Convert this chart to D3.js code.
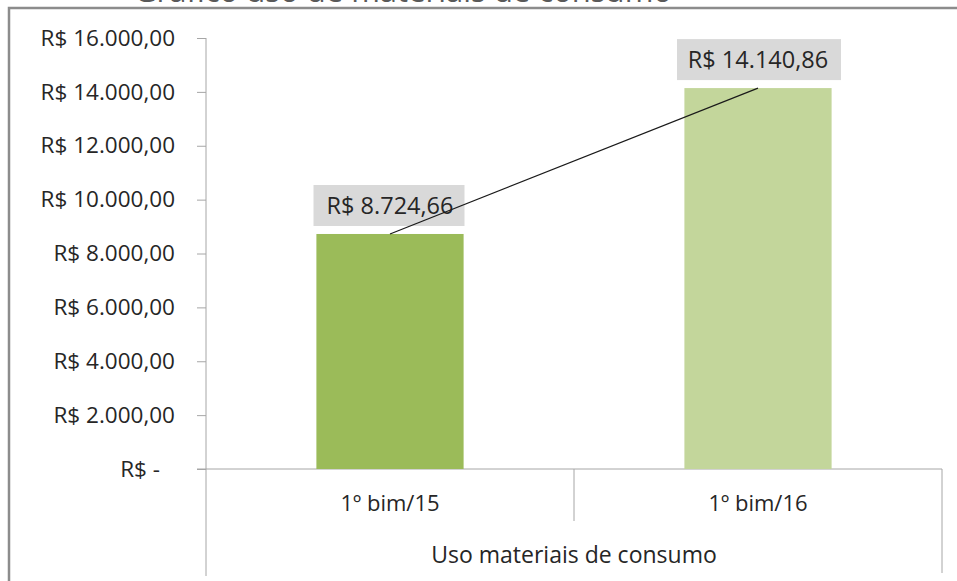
<!DOCTYPE html>
<html>
<head>
<meta charset="utf-8">
<script src="https://cdn.jsdelivr.net/npm/d3@7"></script>
<style>
  body { margin: 0; background: #fff; }
  text { font-family: "Open Sans", "Noto Sans", sans-serif; fill: #262626; }
</style>
</head>
<body>
<div id="chart"></div>
<script>
// data
const categories = ["1º bim/15", "1º bim/16"];
const values = [8724.66, 14140.86];
const labels = ["R$ 8.724,66", "R$ 14.140,86"];
const groupLabel = "Uso materiais de consumo";
const yTicks = [0, 2000, 4000, 6000, 8000, 10000, 12000, 14000, 16000];
const colors = ["#9bbb59", "#c3d69b"];
const title = "Gráfico uso de materiais de consumo";

const w = 957, h = 581;
const plotLeft = 206, plotRight = 942, plotTop = 38, plotBottom = 469;

const svg = d3.select("#chart")
  .append("svg")
  .attr("width", w)
  .attr("height", h);

// title (cut off at top in the original, only the bottom shows)
svg.append("text")
  .attr("x", 403)
  .attr("y", 2)
  .attr("text-anchor", "middle")
  .attr("font-size", "31px")
  .style("fill", "#595959")
  .text(title);

// outer frame
svg.append("path")
  .attr("d", `M9,${h + 2}V8H${w + 2}`)
  .attr("fill", "none")
  .attr("stroke", "#8c8c8c")
  .attr("stroke-width", 2.5);

const x = d3.scaleBand()
  .domain(categories)
  .range([plotLeft, plotRight])
  .paddingInner(0)
  .paddingOuter(0);

const y = d3.scaleLinear()
  .domain([0, 16000])
  .range([plotBottom, plotTop]);

const fmt = function(d) {
  if (d === 0) return "R$ -";
  return "R$ " + d3.format(",.2f")(d).replace(/,/g, "#").replace(".", ",").replace(/#/g, ".");
};

// y axis
const yAxis = svg.append("g")
  .attr("transform", `translate(${plotLeft},0)`)
  .call(d3.axisLeft(y).tickValues(yTicks).tickFormat(fmt).tickSize(9).tickPadding(22));
yAxis.select(".domain").remove();
yAxis.selectAll(".tick line").attr("stroke", "#a6a6a6");
yAxis.selectAll(".tick text")
  .attr("font-size", "22.5px")
  .attr("dx", function(d) { return d === 0 ? -15 : 0; });

// y axis line down through the category area
svg.append("line")
  .attr("x1", plotLeft).attr("x2", plotLeft)
  .attr("y1", plotTop).attr("y2", 576)
  .attr("stroke", "#a6a6a6");

// x axis line
svg.append("line")
  .attr("x1", plotLeft - 9).attr("x2", plotRight)
  .attr("y1", plotBottom).attr("y2", plotBottom)
  .attr("stroke", "#a6a6a6");

// category dividers
svg.append("line")
  .attr("x1", x(categories[1])).attr("x2", x(categories[1]))
  .attr("y1", plotBottom).attr("y2", 521)
  .attr("stroke", "#a6a6a6");
svg.append("line")
  .attr("x1", plotRight).attr("x2", plotRight)
  .attr("y1", plotBottom).attr("y2", 573)
  .attr("stroke", "#a6a6a6");

// bars
const bw = x.bandwidth() * 0.4;
svg.selectAll("rect.bar")
  .data(values)
  .enter()
  .append("rect")
  .attr("class", "bar")
  .attr("x", function(d, i) { return x(categories[i]) + x.bandwidth() / 2 - bw / 2; })
  .attr("y", function(d) { return y(d); })
  .attr("width", bw)
  .attr("height", function(d) { return plotBottom - y(d); })
  .attr("fill", function(d, i) { return colors[i]; });

// category labels
svg.selectAll("text.cat")
  .data(categories)
  .enter()
  .append("text")
  .attr("class", "cat")
  .attr("x", function(d) { return x(d) + x.bandwidth() / 2; })
  .attr("y", 511)
  .attr("text-anchor", "middle")
  .attr("font-size", "22px")
  .text(function(d) { return d; });

svg.append("text")
  .attr("x", (plotLeft + plotRight) / 2)
  .attr("y", 563)
  .attr("text-anchor", "middle")
  .attr("font-size", "23px")
  .text(groupLabel);

// data label boxes
const boxW = [151, 164];
const lbl = svg.selectAll("g.lbl")
  .data(values)
  .enter()
  .append("g")
  .attr("class", "lbl")
  .attr("transform", function(d, i) {
    return `translate(${x(categories[i]) + x.bandwidth() / 2},${y(d) - 8})`;
  });
lbl.append("rect")
  .attr("x", function(d, i) { return -boxW[i] / 2 + (i === 1 ? 1 : -1); })
  .attr("y", -41)
  .attr("width", function(d, i) { return boxW[i]; })
  .attr("height", 41)
  .attr("fill", "#d9d9d9");
lbl.append("text")
  .attr("y", -12)
  .attr("text-anchor", "middle")
  .attr("font-size", "23.5px")
  .text(function(d, i) { return labels[i]; });

// line linking the bar tops
const line = d3.line()
  .x(function(d, i) { return x(categories[i]) + x.bandwidth() / 2; })
  .y(function(d) { return y(d); });
svg.append("path")
  .datum(values)
  .attr("d", line)
  .attr("fill", "none")
  .attr("stroke", "#1a1a1a")
  .attr("stroke-width", 1.2);
</script>
</body>
</html>
